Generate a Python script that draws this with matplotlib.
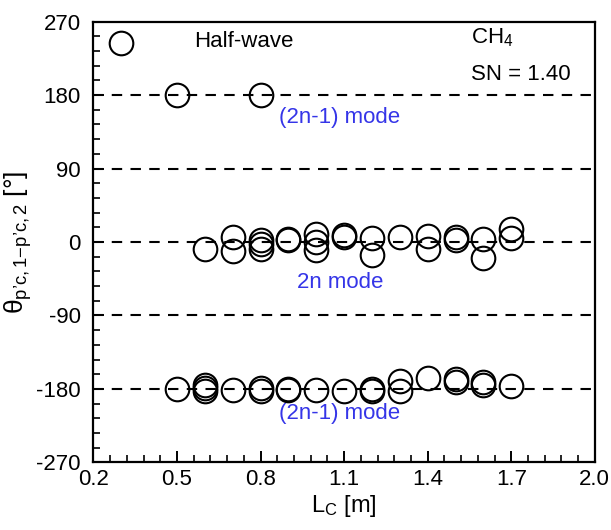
import matplotlib
matplotlib.use("Agg")
import matplotlib.pyplot as plt
from matplotlib.ticker import FixedLocator

plt.rcParams['font.family'] = ['Liberation Sans', 'DejaVu Sans']
plt.rcParams['mathtext.fontset'] = 'custom'
plt.rcParams['mathtext.rm'] = 'Liberation Sans'
plt.rcParams['mathtext.it'] = 'Liberation Sans'
plt.rcParams['axes.unicode_minus'] = False

# Half-wave point
half_x = [0.3]
half_y = [244]

# (2n-1) mode near +180
upper_x = [0.5, 0.8]
upper_y = [180, 180]

# 2n mode near 0
mid_x = [0.6, 0.7, 0.7, 0.8, 0.8, 0.8, 0.9, 0.9, 1.0, 1.0, 1.0, 1.1, 1.1,
         1.2, 1.2, 1.3, 1.4, 1.4, 1.5, 1.5, 1.6, 1.6, 1.7, 1.7]
mid_y = [-9, 6, -11, 2, -3, -9, 2, 4, 10, 0, -10, 9, 6,
         5, -16, 6, 7, -8, 6, 3, 4, -19, 16, 5]

# (2n-1) mode near -180
low_x = [0.5, 0.6, 0.6, 0.6, 0.7, 0.8, 0.8, 0.9, 0.9, 1.0, 1.1, 1.2, 1.2,
         1.3, 1.3, 1.4, 1.5, 1.5, 1.6, 1.6, 1.7]
low_y = [-180, -175, -179, -183, -181, -179, -182, -180, -181, -181, -182,
         -180, -182, -170, -182, -166, -168, -172, -172, -175, -176]

x_ticks = [0.2, 0.5, 0.8, 1.1, 1.4, 1.7, 2.0]
y_ticks = [-270, -180, -90, 0, 90, 180, 270]
ref_lines = [180, 90, 0, -90, -180]

fig = plt.figure(figsize=(6.11, 5.30), dpi=100)
ax = fig.add_axes([0.153, 0.1274, 0.8205, 0.832])

for yv in ref_lines:
    ax.axhline(yv, color='black', lw=1.5, ls=(0, (5, 4)), zorder=1)

mk = dict(marker='o', ls='none', mfc='none', mec='black', ms=17, mew=1.5, zorder=3)
ax.plot(half_x, half_y, **mk)
ax.plot(upper_x, upper_y, **mk)
ax.plot(mid_x, mid_y, **mk)
ax.plot(low_x, low_y, **mk)

ax.set_xlim(0.2, 2.0)
ax.set_ylim(-270, 270)
ax.xaxis.set_major_locator(FixedLocator(x_ticks))
ax.xaxis.set_minor_locator(FixedLocator([0.2 + 0.06 * i for i in range(31)]))
ax.yaxis.set_major_locator(FixedLocator(y_ticks))
ax.yaxis.set_minor_locator(FixedLocator([-270 + 18 * i for i in range(31)]))
ax.set_xticklabels([f'{v:.1f}' for v in x_ticks])
ax.set_yticklabels([str(v) for v in y_ticks])

ax.tick_params(which='both', direction='in', top=False, right=False, labelsize=16)
ax.tick_params(which='major', length=8, width=1.4)
ax.tick_params(which='minor', length=5, width=1.2)
ax.tick_params(axis='y', pad=9)
ax.tick_params(axis='x', pad=5)
for s in ax.spines.values():
    s.set_linewidth(1.6)

ax.set_xlabel(r'L$_\mathregular{C}$ [m]', fontsize=17, labelpad=2)
ax.set_ylabel(r'$\mathregular{\theta_{p’c,1{-}p’c,2}}$ [°]', fontsize=19, labelpad=2)

blue = '#3535e8'
ax.text(0.56, 245, 'Half-wave', fontsize=16, va='center', ha='left')
ax.text(1.555, 250, r'CH$_\mathregular{4}$', fontsize=16, va='center', ha='left')
ax.text(1.555, 205, 'SN = 1.40', fontsize=16, va='center', ha='left')
ax.text(1.085, 152, '(2n-1) mode', fontsize=16, va='center', ha='center', color=blue)
ax.text(1.085, -50, '2n mode', fontsize=16, va='center', ha='center', color=blue)
ax.text(1.085, -210, '(2n-1) mode', fontsize=16, va='center', ha='center', color=blue)

fig.savefig('out.png', dpi=100)
